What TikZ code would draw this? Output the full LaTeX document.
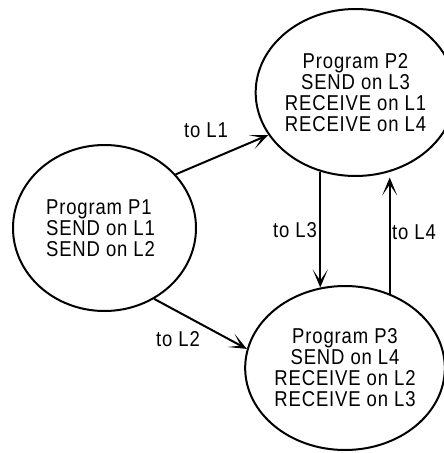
\documentclass[tikz,border=0pt]{standalone}
\usepackage{fontspec}
\setmainfont[FakeStretch=0.86,LetterSpace=4]{Liberation Sans}
\usetikzlibrary{shapes.geometric,arrows.meta}
\begin{document}
\begin{tikzpicture}[x=1pt,y=-1pt,
  prog/.style={draw,ellipse,line width=2pt,inner sep=0pt,font=\fontsize{21.5}{21}\selectfont},
  lbl/.style={inner sep=0pt,font=\fontsize{21.5}{21}\selectfont},
  conn/.style={line width=2pt,-{Stealth[length=18pt,width=15pt,inset=11pt]}}]
\useasboundingbox (0,0) rectangle (444,453);
\node[prog,minimum width=183pt,minimum height=166pt,align=left] (P1) at (104.5,228)
  {Program P1\\SEND on L1\\SEND on L2\hspace*{8pt}};
\node[prog,minimum width=176pt,minimum height=167pt,align=center] (P2) at (355.5,92.5)
  {Program P2\\SEND on L3\\RECEIVE on L1\\RECEIVE on L4};
\node[prog,minimum width=184pt,minimum height=164pt,align=center] (P3) at (345,368)
  {Program P3\\SEND on L4\\RECEIVE on L2\\RECEIVE on L3};
\draw[conn] (P1.37.5) -- (P2.206);
\draw[conn] (P1.-55) -- (P3.169);
\draw[conn] (P2.246) -- (P2.246 |- P3.107);
\draw[conn,shorten >=5pt] (P3.59.3) -- (P3.59.3 |- P2.292.7);
\node[lbl] (l1) at (206,130) {to L1};
\node[lbl] (l2) at (178,339) {to L2};
\node[lbl] (l3) at (295,230) {to L3};
\node[lbl] (l4) at (414,232) {to L4};
\end{tikzpicture}
\end{document}
